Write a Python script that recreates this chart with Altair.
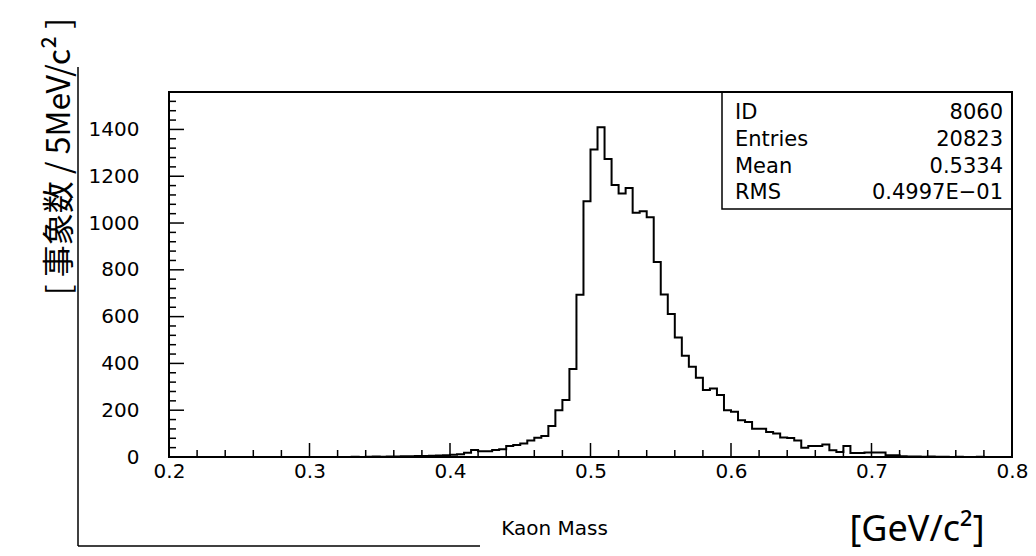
import altair as alt
import pandas as pd

# ---------------- data ----------------
BIN_START = 0.2
BIN_WIDTH = 0.005
# entries per 5 MeV bin, 0.200 ... 0.795
counts = [0] * 26 + [
    1, 0, 1, 2,                                   # 0.330-0.345
    1, 2, 2, 3, 3, 4, 4, 5, 6, 8,                 # 0.350-0.395
    10, 12, 18, 30, 25, 25, 30, 33, 47, 51,       # 0.400-0.445
    58, 71, 82, 90, 133, 200, 244, 376, 693, 1093,  # 0.450-0.495
    1314, 1409, 1274, 1163, 1126, 1150, 1044, 1050, 1025,  # 0.500-0.540
    833, 694, 611, 511, 433, 386, 339, 286, 293, 265,      # 0.545-0.590
    200, 193, 157, 150, 121, 121, 107, 100, 83, 81,        # 0.595-0.640
    71, 40, 47, 47, 53, 29, 21, 47, 17, 17,                # 0.645-0.690
    19, 19, 19, 7, 7, 3, 2, 2, 1, 2, 1,                    # 0.695-0.745
    1, 0, 1, 0, 0, 1, 0, 0, 0, 0,                          # 0.750-0.795
]
assert len(counts) == 120

x_tick_labels = [0.2, 0.3, 0.4, 0.5, 0.6, 0.7, 0.8]
x_minor_ticks = [0.22, 0.24, 0.26, 0.28, 0.32, 0.34, 0.36, 0.38,
                 0.42, 0.44, 0.46, 0.48, 0.52, 0.54, 0.56, 0.58,
                 0.62, 0.64, 0.66, 0.68, 0.72, 0.74, 0.76, 0.78]
y_tick_labels = [0, 200, 400, 600, 800, 1000, 1200, 1400]
y_minor_ticks = [v for v in range(0, 1561, 40) if v % 200 != 0]

stat_names = ["ID", "Entries", "Mean", "RMS"]
stat_values = ["8060", "20823", "0.5334", "0.4997E\u221201"]

edges = [round(BIN_START + BIN_WIDTH * i, 3) for i in range(len(counts) + 1)]
hist = pd.DataFrame({"mass": edges, "entries": counts + [counts[-1]]})

# ---------------- layout ----------------
W, H = 843, 365
LABEL_FONT = "DejaVu Sans"

x_scale = alt.Scale(domain=[0.2, 0.8], nice=False, zero=False)
y_scale = alt.Scale(domain=[0, 1560], nice=False)

x_axis = alt.Axis(values=x_tick_labels, format=".1f", ticks=False,
                  domain=False, grid=False, labelFlush=False,
                  labelPadding=4, labelFont=LABEL_FONT,
                  labelFontSize=20, labelColor="black",
                  title="Kaon Mass", titleX=385, titleY=71,
                  titleAlign="center", titleBaseline="middle",
                  titleFont=LABEL_FONT, titleFontSize=20,
                  titleFontWeight="normal", titleColor="black")
y_axis = alt.Axis(values=y_tick_labels, format="d", ticks=False,
                  domain=False, grid=False, labelFlush=False,
                  labelPadding=30, labelFont=LABEL_FONT,
                  labelFontSize=20, labelColor="black",
                  title="[ 事象数 / 5MeV/c\u00b2 ]", titleAngle=270,
                  titleX=-110, titleY=64, titleAlign="center",
                  titleBaseline="middle", titleFont="Noto Sans CJK JP",
                  titleFontSize=32, titleFontWeight="normal",
                  titleColor="black")

histo = alt.Chart(hist).mark_line(
    interpolate="step-after", color="black", strokeWidth=2
).encode(
    x=alt.X("mass:Q", scale=x_scale, axis=x_axis),
    y=alt.Y("entries:Q", scale=y_scale, axis=y_axis),
)

def xticks(vals, length, width):
    return alt.Chart(pd.DataFrame({"mass": vals})).mark_rule(
        color="black", strokeWidth=width
    ).encode(
        x=alt.X("mass:Q", scale=x_scale, axis=x_axis),
        y=alt.value(H), y2=alt.value(H - length),
    )

def yticks(vals, length, width):
    return alt.Chart(pd.DataFrame({"entries": vals})).mark_rule(
        color="black", strokeWidth=width
    ).encode(
        y=alt.Y("entries:Q", scale=y_scale, axis=y_axis),
        x=alt.value(0), x2=alt.value(length),
    )

# stats box
box = alt.Chart(pd.DataFrame({"k": [0]})).mark_rect(
    fillOpacity=0, stroke="black", strokeWidth=1.5
).encode(x=alt.value(553), x2=alt.value(W), y=alt.value(0), y2=alt.value(117))

row_px = [21, 48, 75, 101]
stat_layers = []
for name, val, py in zip(stat_names, stat_values, row_px):
    df = pd.DataFrame({"name": [name], "value": [val]})
    stat_layers.append(alt.Chart(df).mark_text(
        align="left", baseline="middle", font=LABEL_FONT, fontSize=21,
        color="black").encode(x=alt.value(566), y=alt.value(py), text="name:N"))
    stat_layers.append(alt.Chart(df).mark_text(
        align="right", baseline="middle", font=LABEL_FONT, fontSize=21,
        color="black").encode(x=alt.value(834), y=alt.value(py), text="value:N"))

unit = alt.Chart(pd.DataFrame({"t": ["[GeV/c\u00b2]"]})).mark_text(
    align="center", baseline="middle", font="Noto Sans", fontSize=36,
    color="black"
).encode(x=alt.value(748), y=alt.value(438), text="t:N")

# page frame lines of the scanned sheet
page_left = alt.Chart(pd.DataFrame({"k": [0]})).mark_rule(
    color="black", strokeWidth=1.5
).encode(x=alt.value(-91), y=alt.value(-25), y2=alt.value(454))
page_bottom = alt.Chart(pd.DataFrame({"k": [0]})).mark_rule(
    color="black", strokeWidth=1.5
).encode(x=alt.value(-91), x2=alt.value(311), y=alt.value(454))

chart = alt.layer(
    histo,
    xticks(x_tick_labels, 14, 1.5),
    xticks(x_minor_ticks, 7, 1.5),
    yticks(y_tick_labels, 15, 1.5),
    yticks(y_minor_ticks, 7, 1.5),
    box, *stat_layers, unit, page_left, page_bottom,
).properties(
    width=W, height=H,
    autosize=alt.AutoSizeParams(type="none"),
    padding={"left": 169, "top": 92, "right": 24, "bottom": 99},
    background="white",
).configure_view(stroke="black", strokeWidth=2)

chart.save("out.html", embed_options={"renderer": "svg", "actions": False})
